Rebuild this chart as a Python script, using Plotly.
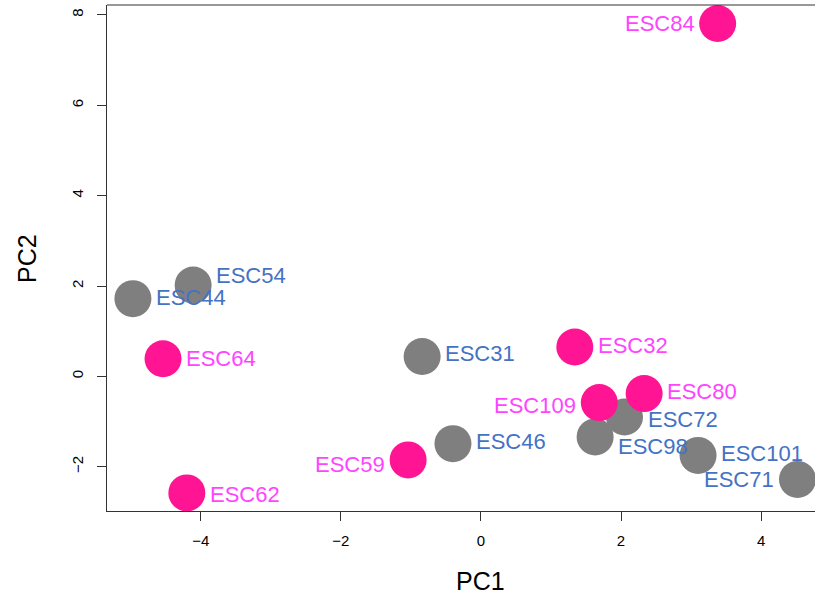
import plotly.graph_objects as go

# ---- data ----
samples = ["ESC84", "ESC54", "ESC44", "ESC64", "ESC62", "ESC31", "ESC46", "ESC59",
           "ESC32", "ESC109", "ESC80", "ESC72", "ESC98", "ESC101", "ESC71"]
pc1 = [3.38, -4.11, -4.97, -4.54, -4.20, -0.84, -0.40, -1.04,
       1.34, 1.69, 2.33, 2.05, 1.63, 3.10, 4.52]
pc2 = [7.81, 2.02, 1.72, 0.39, -2.58, 0.44, -1.49, -1.85,
       0.65, -0.58, -0.38, -0.90, -1.34, -1.75, -2.28]
group = ["pink", "gray", "gray", "pink", "pink", "gray", "gray", "pink",
         "pink", "pink", "pink", "gray", "gray", "gray", "gray"]
label_side = ["left", "right", "right", "right", "right", "right", "right", "left",
              "right", "left", "right", "right", "right", "right", "left"]
label_dy = [0, 10, 1, 0, -2, 3, 2, -5, 2, -3, 2, -2, -10, 2, 0]

x_ticks = [-4, -2, 0, 2, 4]
y_ticks = [-2, 0, 2, 4, 6, 8]

# ---- styles ----
marker_col = {"pink": "#FF1493", "gray": "#7F7F7F"}
label_col = {"pink": "#FF44FF", "gray": "#4472C4"}
FONT = "Liberation Sans, Arial, Helvetica, sans-serif"

fig = go.Figure()
for g in ["gray", "pink"]:
    idx = [i for i, v in enumerate(group) if v == g]
    fig.add_trace(go.Scatter(
        x=[pc1[i] for i in idx], y=[pc2[i] for i in idx],
        mode="markers", text=[samples[i] for i in idx],
        marker=dict(size=37, color=marker_col[g], line=dict(width=0)),
        showlegend=False, hoverinfo="text"))

for i, name in enumerate(samples):
    right = label_side[i] == "right"
    fig.add_annotation(
        x=pc1[i], y=pc2[i], text=name, showarrow=False,
        xanchor="left" if right else "right", yanchor="middle",
        xshift=21 if right else -21, yshift=label_dy[i],
        font=dict(family=FONT, size=22, color=label_col[group[i]]))

# axis titles
fig.add_annotation(x=0, xref="x", y=-0.1383, yref="paper", text="PC1",
                   showarrow=False, xanchor="center", yanchor="middle",
                   font=dict(family=FONT, size=25, color="black"))
fig.add_annotation(x=-0.113, xref="paper", y=0.5, yref="paper", text="PC2",
                   showarrow=False, xanchor="center", yanchor="middle", textangle=-90,
                   font=dict(family=FONT, size=25, color="black"))

# top border of the box
fig.add_shape(type="line", xref="paper", yref="paper", x0=0, x1=1, y0=1, y1=1,
              line=dict(color="#333333", width=1))

fig.update_layout(
    width=815, height=600,
    margin=dict(l=107, r=0, t=5, b=89),
    paper_bgcolor="white", plot_bgcolor="white",
    font=dict(family=FONT, color="black"),
    xaxis=dict(range=[-5.34, 4.77], tickvals=x_ticks, showgrid=False, zeroline=False,
               showline=True, linecolor="#333333", linewidth=1,
               ticks="outside", ticklen=9, tickcolor="#333333", ticklabelstandoff=7,
               tickfont=dict(family=FONT, size=15, color="black")),
    yaxis=dict(range=[-2.98, 8.22], tickvals=y_ticks, showgrid=False, zeroline=False,
               showline=True, linecolor="#333333", linewidth=1,
               ticks="outside", ticklen=9, tickcolor="#333333", tickangle=-90,
               ticklabelstandoff=8,
               tickfont=dict(family=FONT, size=15, color="black")),
)

fig.write_html("out.html", config={"displayModeBar": False},
               post_script="document.body.style.margin='0px';document.body.style.overflow='hidden';")
